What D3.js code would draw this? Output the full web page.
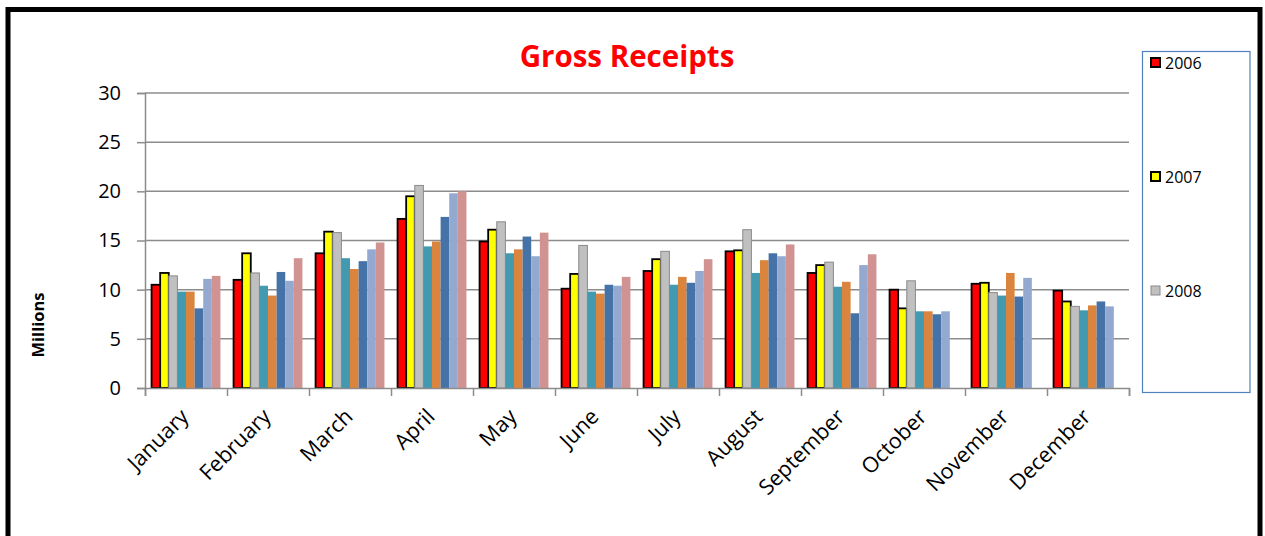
<!DOCTYPE html>
<html>
<head>
<meta charset="utf-8">
<script src="https://cdnjs.cloudflare.com/ajax/libs/d3/7.8.5/d3.min.js"></script>
<style>
  body { margin: 0; background: #fff; }
  svg text { font-family: "Open Sans", Lato, sans-serif; }
</style>
</head>
<body>
<div id="chart"></div>
<script>
const months = ["January", "February", "March", "April", "May", "June",
  "July", "August", "September", "October", "November", "December"];
const seriesNames = ["2006", "2007", "2008", "s4", "s5", "s6", "s7", "s8"];
const legendNames = ["2006", "2007", "2008"];
const yTicks = [0, 5, 10, 15, 20, 25, 30];

// one array per series, one value per month (null = no bar)
const s2006 = [10.5, 11.0, 13.7, 17.2, 14.9, 10.1, 11.9, 13.9, 11.7, 10.0, 10.6, 9.9];
const s2007 = [11.7, 13.7, 15.9, 19.5, 16.1, 11.6, 13.1, 14.0, 12.5, 8.1, 10.7, 8.8];
const s2008 = [11.4, 11.7, 15.8, 20.6, 16.9, 14.5, 13.9, 16.1, 12.8, 10.9, 9.7, 8.3];
const s4 = [9.8, 10.4, 13.2, 14.4, 13.7, 9.8, 10.5, 11.7, 10.3, 7.8, 9.4, 7.9];
const s5 = [9.8, 9.4, 12.1, 14.9, 14.1, 9.6, 11.3, 13.0, 10.8, 7.8, 11.7, 8.4];
const s6 = [8.1, 11.8, 12.9, 17.4, 15.4, 10.5, 10.7, 13.7, 7.6, 7.5, 9.3, 8.8];
const s7 = [11.1, 10.9, 14.1, 19.8, 13.4, 10.4, 11.9, 13.4, 12.5, 7.8, 11.2, 8.3];
const s8 = [11.4, 13.2, 14.8, 20.0, 15.8, 11.3, 13.1, 14.6, 13.6, null, null, null];

const allSeries = [s2006, s2007, s2008, s4, s5, s6, s7, s8];
const colors = ["#ff0000", "#ffff00", "#c0c0c0", "#4299b0", "#db843d", "#4572a7", "#93a9cf", "#d19392"];
const strokes = ["#000", "#000", "#8a8a8a", "none", "none", "none", "none", "none"];

const W = 1265, H = 536;
const m = { left: 145, right: 1129, top: 93, bottom: 388 };

const svg = d3.select("#chart").append("svg")
  .attr("width", W).attr("height", H);

// outer frame
svg.append("rect")
  .attr("x", 8).attr("y", 9.5)
  .attr("width", 1252).attr("height", 560)
  .attr("fill", "none").attr("stroke", "#000").attr("stroke-width", 5);

const x = d3.scaleBand().domain(months)
  .range([m.left, m.right]).paddingInner(0.16).paddingOuter(0.08);
const xs = d3.scaleBand().domain(seriesNames).range([0, x.bandwidth()]);
const y = d3.scaleLinear().domain([0, 30]).range([m.bottom, m.top]);

// gridlines
svg.append("g").selectAll("line").data(yTicks.slice(1)).enter().append("line")
  .attr("x1", m.left).attr("x2", m.right)
  .attr("y1", d => y(d)).attr("y2", d => y(d))
  .attr("stroke", "#8c8c8c").attr("stroke-width", 1.5);

// y axis
const yAxis = svg.append("g").attr("transform", "translate(" + m.left + ",0)")
  .call(d3.axisLeft(y).tickValues(yTicks).tickSize(8).tickPadding(16));
yAxis.select(".domain").attr("stroke", "#8c8c8c").attr("stroke-width", 1.5);
yAxis.selectAll(".tick line").attr("stroke", "#8c8c8c").attr("stroke-width", 1.5);
yAxis.selectAll("text").attr("font-size", 20).attr("fill", "#000")
  .style("font-family", "'Open Sans', Lato, sans-serif");

// bars
const rows = months.map((mo, i) => ({ month: mo, vals: allSeries.map(s => s[i]) }));
const groups = svg.append("g").selectAll("g").data(rows).enter().append("g")
  .attr("transform", d => "translate(" + x(d.month) + ",0)");
groups.selectAll("rect")
  .data(d => d.vals.map((v, k) => ({ v: v, k: k })).filter(e => e.v !== null))
  .enter().append("rect")
  .attr("x", e => xs(seriesNames[e.k]))
  .attr("width", xs.bandwidth())
  .attr("y", e => y(e.v))
  .attr("height", e => y(0) - y(e.v))
  .attr("fill", e => colors[e.k])
  .attr("stroke", e => strokes[e.k])
  .attr("stroke-width", e => e.k < 2 ? 1.8 : 1);

// x axis with ticks at band edges
const xEdges = d3.scaleLinear().domain([0, months.length]).range([m.left, m.right]);
const xAxis = svg.append("g").attr("transform", "translate(0," + m.bottom + ")")
  .call(d3.axisBottom(xEdges).ticks(12).tickSize(8).tickFormat(""));
xAxis.select(".domain").attr("stroke", "#8c8c8c").attr("stroke-width", 1.5);
xAxis.selectAll(".tick line").attr("stroke", "#8c8c8c").attr("stroke-width", 1.5);

// month labels
svg.append("g").selectAll("text").data(months).enter().append("text")
  .attr("transform", d => "translate(" + (x(d) + x.bandwidth() / 2 + 4) + "," + (m.bottom + 30) + ") rotate(-45)")
  .attr("text-anchor", "end")
  .attr("font-size", 21.5)
  .text(d => d);

// y title
svg.append("text")
  .attr("transform", "translate(44,325) rotate(-90)")
  .attr("text-anchor", "middle")
  .attr("font-size", 16.5).attr("font-weight", "bold")
  .text("Millions");

// title
svg.append("text")
  .attr("x", 627).attr("y", 67)
  .attr("text-anchor", "middle")
  .attr("font-size", 29.5).attr("font-weight", "bold")
  .attr("fill", "#ff0000")
  .text("Gross Receipts");

// legend
svg.append("rect")
  .attr("x", 1142.5).attr("y", 51.5).attr("width", 107.5).attr("height", 341)
  .attr("fill", "#fff").attr("stroke", "#4f81bd").attr("stroke-width", 1.2);
const leg = svg.append("g").selectAll("g").data(legendNames).enter().append("g")
  .attr("transform", (d, i) => "translate(1151," + (58 + i * 114) + ")");
leg.append("rect")
  .attr("width", 9).attr("height", 9)
  .attr("fill", (d, i) => colors[i])
  .attr("stroke", (d, i) => strokes[i])
  .attr("stroke-width", (d, i) => i < 2 ? 2 : 1);
leg.append("text")
  .attr("x", 14).attr("y", 11)
  .attr("font-size", 16)
  .text(d => d);
</script>
</body>
</html>
